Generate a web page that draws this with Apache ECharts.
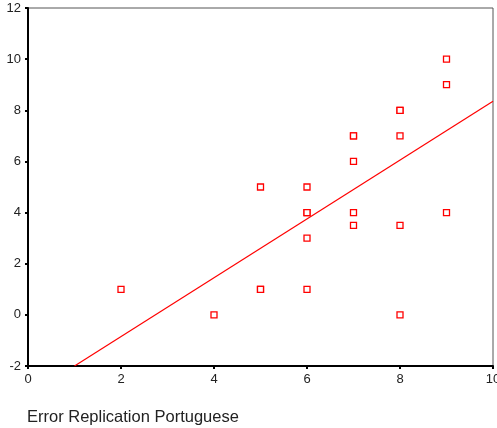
<!DOCTYPE html>
<html lang="en">
<head>
    <meta charset="UTF-8">
    <title>Error Replication Portuguese</title>
    <script src="https://cdn.jsdelivr.net/npm/echarts/dist/echarts.min.js"></script>
</head>
<body style="margin:0">
    <div id="main" style="width: 497px; height: 428px;"></div>
    <script>
        // x = Portuguese error replication, y = other score
        var xValues = [2, 4, 5, 5, 5, 6, 6, 6, 6, 6, 7, 7, 7, 7, 7, 8, 8, 8, 8, 8, 9, 9, 9];
        var yValues = [1, 0, 5, 1, 1, 5, 4, 4, 3, 1, 7, 7, 6, 4, 3.5, 8, 8, 7, 3.5, 0, 10, 9, 4];
        // fit line end points
        var fitX = [1, 10];
        var fitY = [-2, 8.35];

        var chart = echarts.init(document.getElementById('main'));

        var axisText = { color: '#222', fontFamily: 'Liberation Sans, Arial', fontSize: 13 };

        var option = {
            animation: false,
            title: {
                text: 'Error Replication Portuguese',
                left: 27,
                top: 409,
                padding: 0,
                textStyle: { fontFamily: 'Liberation Sans, Arial', fontSize: 16.5, fontWeight: 'normal', color: '#222' }
            },
            grid: {
                left: 28, right: 4, top: 8, bottom: 62,
                outerBoundsMode: 'none',
                show: true, borderColor: '#555', borderWidth: 1
            },
            xAxis: {
                type: 'value',
                min: 0, max: 10, interval: 2,
                axisLine: { onZero: false, lineStyle: { color: '#000', width: 2 } },
                axisTick: { show: true, length: 3, lineStyle: { color: '#000', width: 2 } },
                axisLabel: Object.assign({ margin: 7 }, axisText),
                splitLine: { show: false }
            },
            yAxis: {
                type: 'value',
                min: -2, max: 12, interval: 2,
                axisLine: { onZero: false, lineStyle: { color: '#000', width: 2 } },
                axisTick: { show: true, length: 3, lineStyle: { color: '#000', width: 2 } },
                axisLabel: Object.assign({ margin: 7 }, axisText),
                splitLine: { show: false }
            },
            series: [
                {
                    type: 'scatter',
                    symbol: 'rect',
                    symbolSize: 6,
                    itemStyle: { color: '#fff', borderColor: '#ff0000', borderWidth: 1.3, opacity: 1 },
                    data: xValues.map(function (x, i) { return [x, yValues[i]]; })
                },
                {
                    type: 'line',
                    showSymbol: false,
                    lineStyle: { color: '#ff0000', width: 1.2 },
                    data: fitX.map(function (x, i) { return [x, fitY[i]]; })
                }
            ]
        };

        chart.setOption(option);
    </script>
</body>
</html>
